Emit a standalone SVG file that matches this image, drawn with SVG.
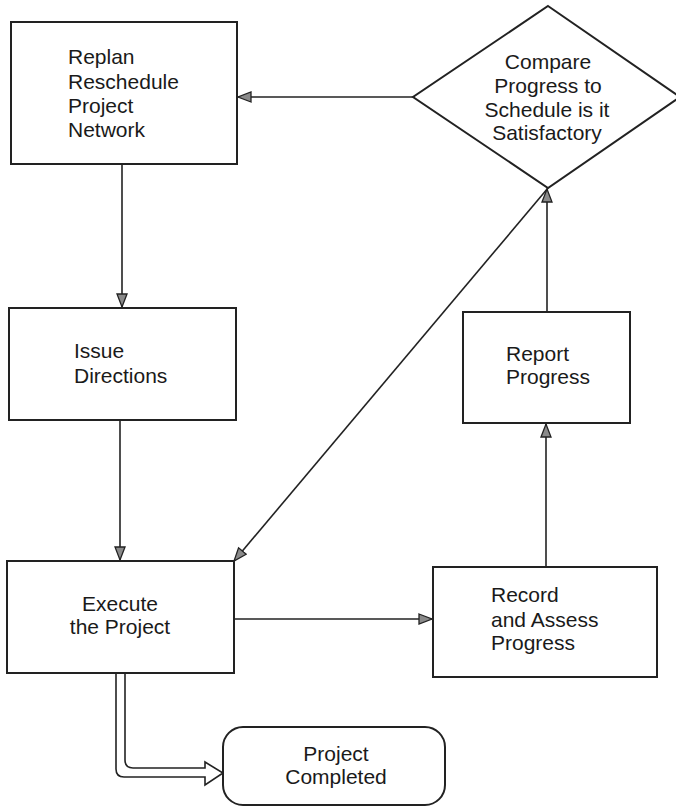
<svg xmlns="http://www.w3.org/2000/svg" width="676" height="807" viewBox="0 0 676 807">
<style>
.box{fill:#fff;stroke:#222;stroke-width:2}
.ln{fill:none;stroke:#222;stroke-width:1.6}
.t{font-family:"Liberation Sans",Arial,sans-serif;font-size:21px;fill:#1a1a1a}
.c{text-anchor:middle}
</style>
<defs>
<marker id="ah" markerUnits="userSpaceOnUse" markerWidth="16" markerHeight="14" refX="14" refY="6" orient="auto">
<path d="M1,1 L14,6 L1,11 Z" fill="#8a8a8a" stroke="#222" stroke-width="1.3" stroke-linejoin="miter"/>
</marker>
</defs>
<rect width="676" height="807" fill="#fff"/>
<g id="connectors">
<line class="ln" x1="122" y1="164" x2="122" y2="307" marker-end="url(#ah)"/>
<line class="ln" x1="120" y1="420" x2="120" y2="560" marker-end="url(#ah)"/>
<line class="ln" x1="413" y1="97" x2="238" y2="97" marker-end="url(#ah)"/>
<line class="ln" x1="234" y1="619" x2="432" y2="619" marker-end="url(#ah)"/>
<line class="ln" x1="546" y1="567" x2="546" y2="424" marker-end="url(#ah)"/>
<line class="ln" x1="547" y1="312" x2="547" y2="189" marker-end="url(#ah)"/>
<line class="ln" x1="548" y1="188" x2="234" y2="561" marker-end="url(#ah)"/>
<path class="ln" d="M125,673 V760 Q125,768 133,768 H205 V762 L223,773 L205,785 V777 H124 Q116,777 116,769 V673" fill="#fff"/>
</g>
<g id="replan">
<rect class="box" x="11" y="22" width="226" height="142"/>
<text class="t" x="68" y="64">Replan</text>
<text class="t" x="68" y="89">Reschedule</text>
<text class="t" x="68" y="113">Project</text>
<text class="t" x="68" y="137">Network</text>
</g>
<g id="compare">
<polygon class="box" points="548,6 680,97 548,188 413,97" stroke-width="1.8"/>
<text class="t c" x="548" y="69">Compare</text>
<text class="t c" x="548" y="93">Progress to</text>
<text class="t c" x="547" y="117">Schedule is it</text>
<text class="t c" x="547" y="140">Satisfactory</text>
</g>
<g id="issue">
<rect class="box" x="9" y="308" width="227" height="112"/>
<text class="t" x="74" y="358">Issue</text>
<text class="t" x="74" y="383">Directions</text>
</g>
<g id="report">
<rect class="box" x="463" y="312" width="167" height="111"/>
<text class="t" x="506" y="361">Report</text>
<text class="t" x="506" y="384">Progress</text>
</g>
<g id="execute">
<rect class="box" x="7" y="561" width="227" height="112"/>
<text class="t c" x="120" y="611">Execute</text>
<text class="t c" x="120" y="634">the Project</text>
</g>
<g id="record">
<rect class="box" x="433" y="567" width="224" height="110"/>
<text class="t" x="491" y="602">Record</text>
<text class="t" x="491" y="627">and Assess</text>
<text class="t" x="491" y="650">Progress</text>
</g>
<g id="completed">
<rect class="box" x="223" y="727" width="222" height="78" rx="20" ry="20"/>
<text class="t c" x="336" y="761">Project</text>
<text class="t c" x="336" y="784">Completed</text>
</g>
</svg>
